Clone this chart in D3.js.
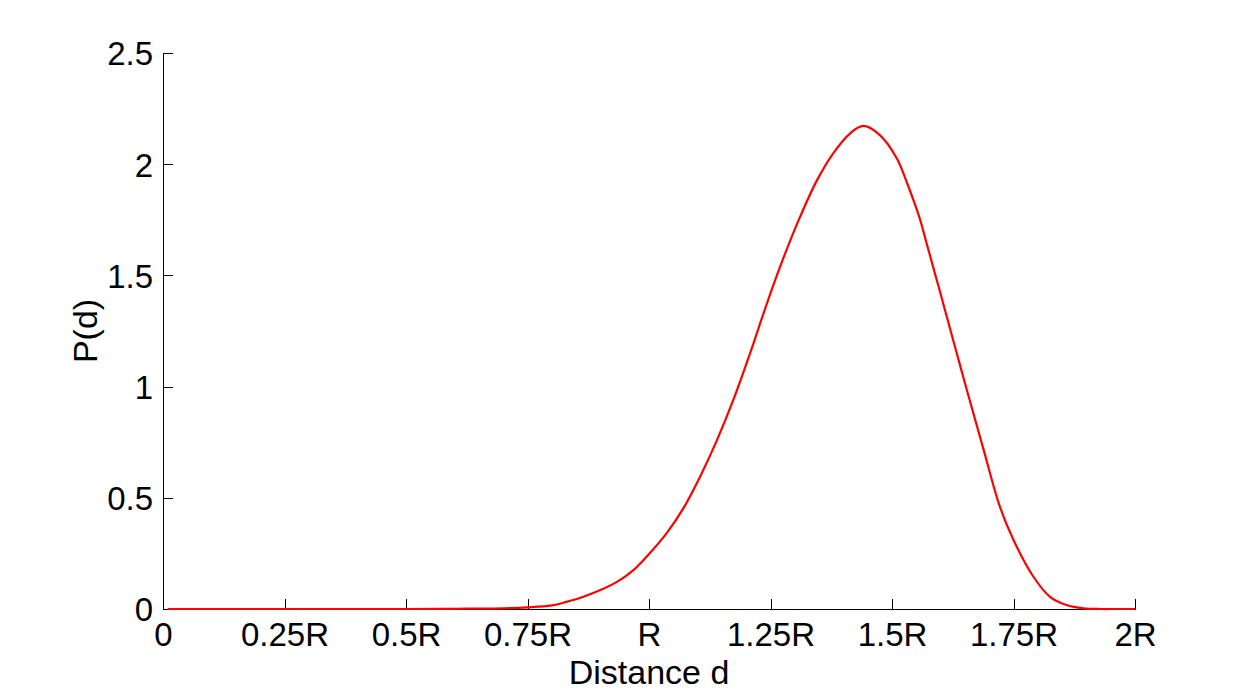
<!DOCTYPE html>
<html>
<head>
<meta charset="utf-8">
<script src="https://cdn.jsdelivr.net/npm/d3@7"></script>
<style>
  html, body { margin: 0; padding: 0; background: #fff; }
  svg { display: block; }
  text { font-family: "Liberation Sans", Arial, Helvetica, sans-serif; }
</style>
</head>
<body>
<svg id="chart" width="1254" height="700"></svg>
<script>
// Data
const distance = [0.01, 0.25, 0.5, 0.6, 0.7, 0.75, 0.8, 0.83, 0.865, 0.9, 0.935, 0.968, 1.0, 1.036, 1.07, 1.105, 1.139, 1.1735, 1.208, 1.242, 1.276, 1.311, 1.345, 1.379, 1.414, 1.441, 1.475, 1.51, 1.53, 1.544, 1.558, 1.571, 1.585, 1.599, 1.6125, 1.633, 1.654, 1.688, 1.722, 1.75, 1.791, 1.825, 1.859, 1.894, 1.93, 1.96, 2.0];
const probability = [0, 0, 0, 0.001, 0.003, 0.007, 0.016, 0.032, 0.055, 0.085, 0.123, 0.175, 0.247, 0.34, 0.45, 0.595, 0.755, 0.94, 1.15, 1.37, 1.575, 1.764, 1.925, 2.049, 2.139, 2.172, 2.131, 2.026, 1.921, 1.839, 1.749, 1.646, 1.535, 1.425, 1.316, 1.152, 0.985, 0.72, 0.46, 0.31, 0.145, 0.055, 0.018, 0.003, 0, 0, 0];

const xTicks = [0, 0.25, 0.5, 0.75, 1, 1.25, 1.5, 1.75, 2];
const xTickLabels = ["0", "0.25R", "0.5R", "0.75R", "R", "1.25R", "1.5R", "1.75R", "2R"];
const yTicks = [0, 0.5, 1, 1.5, 2, 2.5];
const yTickLabels = ["0", "0.5", "1", "1.5", "2", "2.5"];
const xTitle = "Distance d";
const yTitle = "P(d)";

const svg = d3.select("#chart");
const mLeft = 163, mRight = 1135, mTop = 53, mBottom = 609;
const fontSize = 33;

const x = d3.scaleLinear().domain([0, 2]).range([mLeft, mRight]);
const y = d3.scaleLinear().domain([0, 2.5]).range([mBottom, mTop]);

// X axis
const xAxis = d3.axisBottom(x)
  .tickValues(xTicks)
  .tickFormat((d, i) => xTickLabels[i])
  .tickSizeInner(-10)
  .tickSizeOuter(0)
  .tickPadding(14);
const gx = svg.append("g").attr("transform", `translate(0,${mBottom})`).call(xAxis);
gx.selectAll("text").attr("font-size", fontSize).attr("fill", "#000")
  .style("font-family", '"Liberation Sans", Arial, sans-serif');
gx.selectAll("line, path").attr("stroke", "#000").attr("shape-rendering", "crispEdges");

// Y axis
const yAxis = d3.axisLeft(y)
  .tickValues(yTicks)
  .tickFormat((d, i) => yTickLabels[i])
  .tickSizeInner(-10)
  .tickSizeOuter(0)
  .tickPadding(10);
const gy = svg.append("g").attr("transform", `translate(${mLeft},0)`).call(yAxis);
gy.selectAll("text").attr("font-size", fontSize).attr("fill", "#000").attr("dy", "0.36em")
  .style("font-family", '"Liberation Sans", Arial, sans-serif');
gy.selectAll("line, path").attr("stroke", "#000").attr("shape-rendering", "crispEdges");

// Curve
const pts = distance.map((d, i) => [d, probability[i]]);
const line = d3.line()
  .x(d => x(d[0]))
  .y(d => y(Math.max(0, d[1])))
  .curve(d3.curveCatmullRom.alpha(0.5));
svg.append("path")
  .datum(pts)
  .attr("d", line)
  .attr("fill", "none")
  .attr("stroke", "#ff0000")
  .attr("stroke-width", 2.2)
  .attr("stroke-linejoin", "round");

// Titles
svg.append("text")
  .attr("x", (mLeft + mRight) / 2)
  .attr("y", 684)
  .attr("text-anchor", "middle")
  .attr("font-size", 34)
  .attr("fill", "#000")
  .text(xTitle);

svg.append("text")
  .attr("transform", `translate(97,${(mTop + mBottom) / 2}) rotate(-90)`)
  .attr("text-anchor", "middle")
  .attr("font-size", 34)
  .attr("fill", "#000")
  .text(yTitle);
</script>
</body>
</html>
